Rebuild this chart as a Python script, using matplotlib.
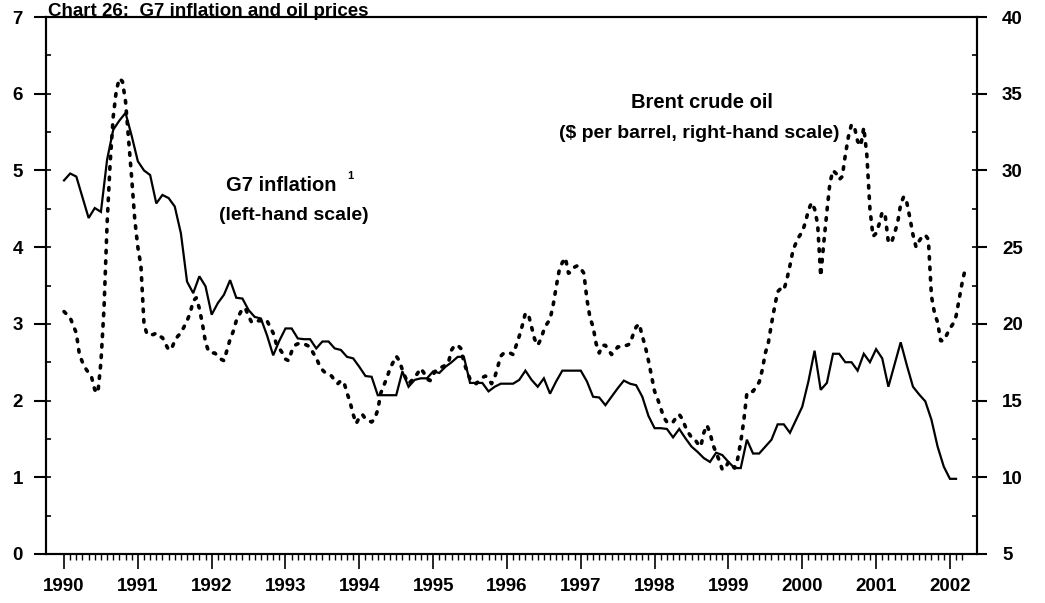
import numpy as np
import matplotlib
matplotlib.use("Agg")
import matplotlib.pyplot as plt
from matplotlib.ticker import FixedLocator, MultipleLocator

plt.rcParams['font.family'] = ['Liberation Sans', 'DejaVu Sans']
plt.rcParams['font.weight'] = 'bold'

# G7 inflation, monthly from Jan 1990 (left-hand scale, %)
inflation = [
    4.87, 4.96, 4.92, 4.65, 4.38, 4.51, 4.46, 5.14, 5.53, 5.65, 5.75, 5.45,   # 1990
    5.12, 5.00, 4.94, 4.57, 4.68, 4.64, 4.53, 4.18, 3.55, 3.40, 3.62, 3.49,   # 1991
    3.12, 3.27, 3.38, 3.57, 3.34, 3.33, 3.18, 3.09, 3.07, 2.85, 2.59, 2.78,   # 1992
    2.94, 2.94, 2.81, 2.80, 2.80, 2.68, 2.77, 2.77, 2.68, 2.66, 2.57, 2.55,   # 1993
    2.44, 2.32, 2.31, 2.07, 2.07, 2.07, 2.07, 2.38, 2.18, 2.27, 2.29, 2.29,   # 1994
    2.38, 2.36, 2.44, 2.50, 2.57, 2.57, 2.23, 2.23, 2.23, 2.12, 2.18, 2.22,   # 1995
    2.22, 2.22, 2.27, 2.39, 2.27, 2.18, 2.29, 2.09, 2.25, 2.39, 2.39, 2.39,   # 1996
    2.39, 2.25, 2.05, 2.04, 1.94, 2.05, 2.16, 2.26, 2.22, 2.20, 2.05, 1.80,   # 1997
    1.64, 1.64, 1.63, 1.52, 1.63, 1.51, 1.40, 1.33, 1.25, 1.20, 1.32, 1.29,   # 1998
    1.20, 1.12, 1.12, 1.49, 1.31, 1.31, 1.40, 1.49, 1.69, 1.69, 1.58, 1.75,   # 1999
    1.92, 2.25, 2.65, 2.14, 2.23, 2.61, 2.61, 2.50, 2.50, 2.39, 2.61, 2.50,   # 2000
    2.67, 2.55, 2.18, 2.47, 2.76, 2.46, 2.18, 2.08, 1.99, 1.75, 1.40, 1.14,   # 2001
    0.98, 0.98,                                                               # 2002
]

# Brent crude oil, twice a month from Jan 1990 ($ per barrel, right-hand scale)
brent = [
    20.8, 20.6, 20.4, 19.9, 19.4, 18.0, 17.5, 17.1, 16.8, 16.5, 15.7, 15.5,
    17.5, 21.0, 26.5, 30.5, 33.5, 35.2, 36.0, 35.8, 34.5, 32.0, 29.5, 26.8,   # 1990
    25.0, 23.8, 20.0, 19.3, 19.3, 19.3, 19.4, 19.2, 19.1, 18.7, 18.3, 18.4,
    18.9, 19.2, 19.4, 19.8, 20.2, 20.7, 21.5, 21.7, 21.0, 20.0, 18.8, 18.2,   # 1991
    18.1, 18.1, 17.9, 17.7, 17.6, 18.3, 19.0, 19.5, 20.2, 20.6, 21.0, 21.0,
    20.5, 20.1, 20.1, 20.2, 20.2, 20.3, 20.2, 19.8, 19.4, 18.7, 18.4, 18.1,   # 1992
    17.7, 17.6, 18.2, 18.6, 18.7, 18.7, 18.7, 18.6, 18.5, 18.1, 17.8, 17.3,
    17.0, 16.8, 16.7, 16.6, 16.3, 16.1, 16.3, 16.2, 15.5, 14.9, 14.1, 13.5,   # 1993
    13.9, 14.1, 13.8, 13.7, 13.6, 13.8, 14.4, 15.5, 16.0, 16.5, 17.1, 17.5,
    17.9, 17.6, 17.0, 16.5, 16.1, 16.3, 16.5, 16.8, 17.1, 16.8, 16.4, 16.3,   # 1994
    16.7, 17.0, 17.1, 17.2, 17.3, 17.5, 18.3, 18.6, 18.6, 18.4, 17.5, 16.9,
    16.4, 16.2, 16.1, 16.3, 16.5, 16.6, 16.4, 16.1, 16.5, 17.2, 17.9, 18.1,   # 1995
    18.1, 18.1, 18.0, 18.6, 19.2, 19.9, 20.7, 20.6, 19.8, 19.0, 18.6, 19.0,
    19.6, 20.0, 20.3, 21.2, 22.4, 23.5, 24.0, 24.3, 23.3, 23.4, 23.7, 23.8,   # 1996
    23.6, 23.3, 21.6, 20.4, 19.8, 18.7, 18.1, 18.6, 18.6, 18.3, 18.0, 18.2,
    18.5, 18.5, 18.6, 18.6, 18.7, 19.3, 19.8, 20.0, 19.2, 18.5, 17.6, 16.6,   # 1997
    15.6, 15.1, 14.5, 13.9, 13.6, 13.5, 13.6, 13.9, 14.1, 13.8, 13.3, 12.9,
    12.6, 12.5, 12.2, 12.0, 12.9, 13.4, 12.9, 12.1, 11.6, 11.1, 10.5, 10.6,   # 1998
    11.0, 10.8, 10.6, 11.2, 12.3, 13.7, 15.5, 15.6, 15.6, 15.9, 16.2, 17.0,
    18.1, 18.8, 20.0, 21.1, 22.1, 22.3, 22.2, 22.9, 23.8, 24.8, 25.3, 25.7,   # 1999
    26.0, 26.6, 27.4, 27.9, 27.5, 26.5, 23.1, 25.3, 27.3, 29.2, 30.0, 29.8,
    29.4, 29.6, 31.0, 32.2, 33.0, 32.8, 31.9, 31.6, 32.8, 31.0, 27.5, 25.7,   # 2000
    25.9, 26.5, 27.3, 27.0, 25.3, 25.3, 25.9, 26.6, 27.8, 28.3, 27.9, 26.9,
    25.8, 25.0, 25.4, 25.7, 25.8, 25.5, 21.8, 20.7, 20.1, 18.9, 18.9, 19.3,   # 2001
    19.7, 20.0, 20.5, 21.6, 22.7, 23.6,                                       # 2002
]

years = list(range(1990, 2003))
year_labels = [str(y) for y in years]

t_infl = 1990 + np.arange(len(inflation)) / 12
t_oil = 1990 + np.arange(len(brent)) / 24

W, H = 1045, 603
fig = plt.figure(figsize=(W / 100, H / 100), dpi=100)
ax = fig.add_axes([46 / W, 1 - 554 / H, (977 - 46) / W, (554 - 17) / H])
ax2 = ax.twinx()

ax.plot(t_infl, inflation, color='black', lw=1.6, solid_joinstyle='miter')
ax2.plot(t_oil, brent, color='black', lw=2.6, linestyle=(0, (0.7, 2.2)),
         dash_capstyle='round')

ax.set_xlim(1989.756, 2002.367)
ax.set_ylim(0, 7)
ax2.set_ylim(5, 40)

for a in (ax, ax2):
    for s in a.spines.values():
        s.set_linewidth(1.5)

ax.set_xticks(years)
ax.set_xticklabels(year_labels)
ax.xaxis.set_minor_locator(FixedLocator(1990 + np.arange(147) / 12))
ax.tick_params(axis='x', which='major', direction='out', length=11, width=1.2,
               labelsize=13.5, pad=6)
ax.tick_params(axis='x', which='minor', direction='out', length=4.5, width=1.0)

ax.yaxis.set_major_locator(MultipleLocator(1))
ax.yaxis.set_minor_locator(MultipleLocator(0.5))
ax.yaxis.remove_overlapping_locs = False
ax.tick_params(axis='y', which='major', direction='out', length=8.5, width=1.5,
               labelsize=13.5, pad=8)
ax.tick_params(axis='y', which='minor', direction='in', length=3.5, width=1.2)

ax2.yaxis.set_major_locator(MultipleLocator(5))
ax2.yaxis.set_minor_locator(MultipleLocator(2.5))
ax2.yaxis.remove_overlapping_locs = False
ax2.tick_params(axis='y', which='major', direction='out', length=7, width=1.5,
                labelsize=13.5, pad=11)
ax2.tick_params(axis='y', which='minor', direction='in', length=3.5, width=1.2)

for lab in ax.get_xticklabels() + ax.get_yticklabels() + ax2.get_yticklabels():
    lab.set_fontweight('bold')

def px(x, y):
    return x / W, 1 - y / H

fig.text(*px(48, 16), 'Chart 26:  G7 inflation and oil prices', fontsize=13.5,
         fontweight='bold', ha='left', va='baseline')
fig.text(*px(281, 186), 'G7 inflation', fontsize=14.5, fontweight='bold',
         ha='center', va='center')
fig.text(*px(350, 176), '1', fontsize=8, fontweight='bold', ha='center', va='center')
fig.text(*px(294, 216), '(left-hand scale)', fontsize=14, fontweight='bold',
         ha='center', va='center')
fig.text(*px(702, 103), 'Brent crude oil', fontsize=14.5, fontweight='bold',
         ha='center', va='center')
fig.text(*px(699, 133), '($ per barrel, right-hand scale)', fontsize=14,
         fontweight='bold', ha='center', va='center')

fig.savefig('out.png', dpi=100)
